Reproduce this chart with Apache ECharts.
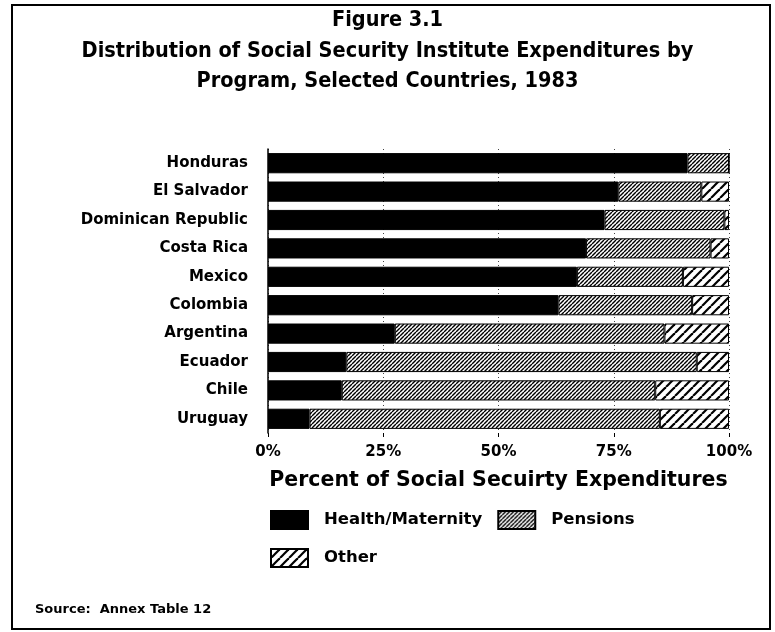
<!DOCTYPE html>
<html>
<head>
<meta charset="utf-8">
<script src="https://cdn.jsdelivr.net/npm/echarts@6/dist/echarts.min.js"></script>
<style>
html,body{margin:0;padding:0;background:#fff;}
#main{width:775px;height:632px;}
</style>
</head>
<body>
<div id="main"></div>
<script>
// Data (percent of social security expenditures, 1983)
var countries = ['Honduras','El Salvador','Dominican Republic','Costa Rica','Mexico','Colombia','Argentina','Ecuador','Chile','Uruguay'];
var health   = [91, 76, 73, 69, 67, 63, 27.5, 17, 16, 9];
var pensions = [9, 18, 26, 27, 23, 29, 58.5, 76, 68, 76];
var other    = [0, 6, 1, 4, 10, 8, 14, 7, 16, 15];
var tickLabels = ['0%','25%','50%','75%','100%'];
var seriesNames = ['Health/Maternity','Pensions','Other'];

function hatch(spacing, lw){
  var c = document.createElement('canvas');
  c.width = spacing; c.height = spacing;
  var ctx = c.getContext('2d');
  ctx.fillStyle = '#fff'; ctx.fillRect(0,0,spacing,spacing);
  ctx.strokeStyle = '#000'; ctx.lineWidth = lw;
  for (var k=-1;k<=1;k++){
    ctx.beginPath();
    ctx.moveTo(k*spacing, spacing);
    ctx.lineTo(k*spacing+spacing, 0);
    ctx.stroke();
  }
  return {image:c, repeat:'repeat'};
}
var densePat = hatch(4, 1.4);
var sparsePat = hatch(9, 2.2);

var chart = echarts.init(document.getElementById('main'), null, {renderer:'canvas'});
var cats = countries.slice().reverse();
function rev(a){return a.slice().reverse();}

var fills = ['#000', densePat, sparsePat];
var vals = [health, pensions, other];
var series = seriesNames.map(function(n,i){
  return {
    name:n, type:'bar', stack:'t', barWidth:'71%',
    data: rev(vals[i]),
    itemStyle:{color:fills[i], borderColor:'#000', borderWidth:1},
    emphasis:{disabled:true}
  };
});

var labelFont = 'DejaVu Sans, Liberation Sans, sans-serif';
var titleFont = 'Liberation Sans Narrow, DejaVu Sans Condensed, Liberation Sans, sans-serif';
var tStyle = {fontFamily:titleFont, fontWeight:'bold', fontSize:21.5, color:'#000'};

chart.setOption({
  animation:false,
  backgroundColor:'#fff',
  title:[
    {text:'Figure 3.1', left:'center', top:4, textStyle:tStyle},
    {text:'Distribution of Social Security Institute Expenditures by', left:'center', top:35, textStyle:tStyle},
    {text:'Program, Selected Countries, 1983', left:'center', top:65, textStyle:tStyle}
  ],
  grid:{left:268, right:46, top:149, height:284, containLabel:false},
  xAxis:{
    type:'value', min:0, max:100, interval:25,
    axisLine:{show:false},
    axisTick:{show:true, length:4, lineStyle:{color:'#000'}},
    splitLine:{show:true, lineStyle:{color:'#444', type:[1,3], width:1}},
    axisLabel:{margin:12, fontFamily:labelFont, fontWeight:'bold', fontSize:15, color:'#000',
      formatter:function(v){return tickLabels[Math.round(v/25)];}},
    name:'Percent of Social Secuirty Expenditures', nameLocation:'middle', nameGap:37,
    nameTextStyle:{fontFamily:labelFont, fontWeight:'bold', fontSize:20.5, color:'#000'}
  },
  yAxis:{
    type:'category', data:cats,
    axisLine:{show:true, lineStyle:{color:'#000', width:1.5}},
    axisTick:{show:false},
    axisLabel:{margin:20, fontFamily:labelFont, fontWeight:'bold', fontSize:15, color:'#000'}
  },
  legend:[
    {data:['Health/Maternity','Pensions'], left:270, top:510, padding:0, itemWidth:37, itemHeight:18, itemGap:15, icon:'rect',
     textStyle:{fontFamily:labelFont, fontWeight:'bold', fontSize:16.5, color:'#000', padding:[0,0,0,11]}, selectedMode:false},
    {data:['Other'], left:270, top:548, padding:0, itemWidth:37, itemHeight:18, icon:'rect',
     textStyle:{fontFamily:labelFont, fontWeight:'bold', fontSize:16.5, color:'#000', padding:[0,0,0,11]}, selectedMode:false}
  ],
  graphic:[
    {type:'rect', shape:{x:12, y:5, width:758, height:624}, style:{fill:null, stroke:'#000', lineWidth:2}, silent:true},
    {type:'text', left:35, top:603, style:{text:'Source:  Annex Table 12', font:'bold 13px DejaVu Sans, Liberation Sans, sans-serif', fill:'#000'}}
  ],
  series:series
});
</script>
</body>
</html>
